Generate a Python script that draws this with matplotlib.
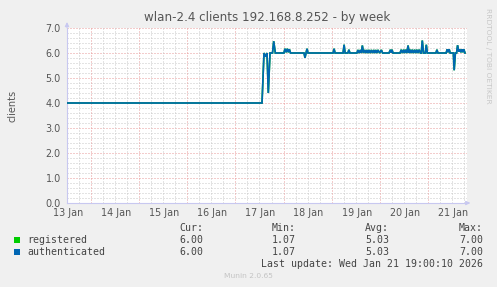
import matplotlib
matplotlib.use("Agg")
import matplotlib.pyplot as plt
import numpy as np

# ---- data (hours since start of graph window, value) ----
hours = [0.0, 97.26, 98.25, 99.0, 99.75, 100.4, 101.25, 102.5, 103.1, 103.9,
         108.2, 108.7, 109.3, 109.9, 110.4, 110.9, 111.5,
         118.2, 118.7, 119.7, 120.2,
         132.7, 133.2, 133.7, 137.7, 138.2, 138.7, 140.1, 140.6, 141.1,
         144.6, 145.1, 145.7, 146.3, 146.8, 147.3, 147.9, 148.5, 149.1, 149.6,
         150.1, 150.6, 151.2, 151.8, 152.4, 153.0, 153.5, 154.0, 154.5, 155.1,
         155.9, 156.8, 157.4,
         160.6, 161.3, 161.7, 162.1, 162.6,
         166.1, 166.7, 167.3, 167.9, 168.4, 168.9, 169.5, 170.1, 170.7, 171.2,
         171.7, 172.2, 172.8, 173.4, 173.9, 174.5, 175.0, 175.6, 176.3,
         176.7, 177.2, 177.8, 178.7, 179.2, 179.7,
         184.0, 184.5, 185.0,
         189.1, 189.6, 190.1, 190.6, 191.1,
         192.7, 193.1, 193.7, 194.3, 194.8, 195.4, 195.9, 196.5, 197.0, 197.5,
         197.9, 198.5]
clients = [4.0, 4.0, 6.0, 5.85, 6.0, 4.4, 6.0, 6.0, 6.47, 6.0,
           6.0, 6.17, 6.03, 6.17, 6.03, 6.15, 6.0,
           6.0, 5.81, 6.17, 6.0,
           6.0, 6.17, 6.0, 6.0, 6.33, 6.0, 6.0, 6.13, 6.0,
           6.0, 6.12, 6.0, 6.12, 6.0, 6.3, 6.0, 6.12, 6.0, 6.12,
           6.0, 6.12, 6.0, 6.12, 6.0, 6.12, 6.0, 6.12, 6.0, 6.12,
           6.0, 6.12, 6.0,
           6.0, 6.13, 6.02, 6.13, 6.0,
           6.0, 6.13, 6.0, 6.13, 6.0, 6.13, 6.0, 6.3, 6.0, 6.13,
           6.0, 6.13, 6.0, 6.13, 6.0, 6.13, 6.0, 6.13, 6.0,
           6.0, 6.5, 6.0, 6.0, 6.33, 6.0,
           6.0, 6.13, 6.0,
           6.0, 6.15, 6.03, 6.15, 6.0,
           6.0, 5.31, 6.0, 6.0, 6.31, 6.05, 6.15, 6.03, 6.15, 6.03,
           6.15, 6.0]

day_labels = ["13 Jan", "14 Jan", "15 Jan", "16 Jan", "17 Jan",
              "18 Jan", "19 Jan", "20 Jan", "21 Jan"]
series_names = ["registered", "authenticated"]
series_colors = ["#00CC00", "#0066B3"]
cur_vals = ["6.00", "6.00"]
min_vals = ["1.07", "1.07"]
avg_vals = ["5.03", "5.03"]
max_vals = ["7.00", "7.00"]

W, H = 497, 287
fig = plt.figure(figsize=(W / 100, H / 100), dpi=100, facecolor="#F0F0F0")

def fx(px):
    return px / W

def fy(py):
    return 1 - py / H

ax = fig.add_axes([fx(67), fy(203), fx(467) - fx(67), fy(28) - fy(203)])
ax.set_facecolor("white")
span = 199.5
ax.set_xlim(0, span)
ax.set_ylim(0, 7)

# grid
gl = 0.72
for v in np.arange(0.2, 7.01, 0.2):
    major = abs(v - round(v)) < 1e-6
    ax.axhline(v, color="#E89A9A" if major else "#C8C8C8",
               lw=gl, ls=(0, (1, 2)), zorder=1)
for h in np.arange(6, span, 6):
    major = abs(((h - 12) % 24)) < 1e-6
    ax.axvline(h, color="#E89A9A" if major else "#C8C8C8",
               lw=gl, ls=(0, (1, 2)), zorder=1)

for name, col in zip(series_names, series_colors):
    ax.plot(hours, clients, color=col, lw=1.2, zorder=3, solid_joinstyle="miter")

ax.set_yticks(np.arange(0, 7.01, 1))
ax.set_yticklabels([f"{v:.1f}" for v in np.arange(0, 7.01, 1)])
ax.set_xticks([0.5 + 24 * i for i in range(len(day_labels))])
ax.set_xticklabels(day_labels)
ax.tick_params(axis="both", labelsize=6.9, colors="#555555", length=0, pad=4)
ax.tick_params(axis="y", pad=4.5)
ax.tick_params(axis="x", pad=3.5)

for s in ["top", "right"]:
    ax.spines[s].set_visible(False)
for s in ["left", "bottom"]:
    ax.spines[s].set_color("#C8C8F0")
    ax.spines[s].set_linewidth(0.8)

# axis arrows
ax.annotate("", xy=(0, 7.35), xytext=(0, 6.9), xycoords="data",
            arrowprops=dict(arrowstyle="-|>", color="#C8C8F0", lw=0.8,
                            mutation_scale=6), annotation_clip=False)
ax.annotate("", xy=(span + 3.0, 0), xytext=(span - 1, 0), xycoords="data",
            arrowprops=dict(arrowstyle="-|>", color="#C8C8F0", lw=0.8,
                            mutation_scale=6), annotation_clip=False)

# title and labels
fig.text(fx(267), fy(18), "wlan-2.4 clients 192.168.8.252 - by week",
         ha="center", va="center", fontsize=8.6, color="#555555")
fig.text(fx(12), fy(106), "clients", rotation=90, ha="center", va="center",
         fontsize=7.0, color="#555555")
fig.text(fx(488), fy(56), "RRDTOOL / TOBI OETIKER", rotation=270,
         ha="center", va="center", fontsize=5.4, color="#C8C8C8")

mono = "DejaVu Sans Mono"
fs = 7.1
tc = "#444444"
fig.text(fx(203), fy(228), "Cur:", ha="right", va="center", family=mono, fontsize=fs, color=tc)
fig.text(fx(296), fy(228), "Min:", ha="right", va="center", family=mono, fontsize=fs, color=tc)
fig.text(fx(389), fy(228), "Avg:", ha="right", va="center", family=mono, fontsize=fs, color=tc)
fig.text(fx(483), fy(228), "Max:", ha="right", va="center", family=mono, fontsize=fs, color=tc)

rows_y = [240, 252]
for i, (name, col) in enumerate(zip(series_names, series_colors)):
    y = rows_y[i]
    fig.patches.append(plt.Rectangle((fx(14), fy(y + 2.5)), fx(5.5), fy(0) - fy(5.5),
                                     transform=fig.transFigure, facecolor=col,
                                     edgecolor="none"))
    fig.text(fx(27), fy(y), name, ha="left", va="center", family=mono, fontsize=fs, color=tc)
    fig.text(fx(203), fy(y), cur_vals[i], ha="right", va="center", family=mono, fontsize=fs, color=tc)
    fig.text(fx(296), fy(y), min_vals[i], ha="right", va="center", family=mono, fontsize=fs, color=tc)
    fig.text(fx(389), fy(y), avg_vals[i], ha="right", va="center", family=mono, fontsize=fs, color=tc)
    fig.text(fx(483), fy(y), max_vals[i], ha="right", va="center", family=mono, fontsize=fs, color=tc)

fig.text(fx(483), fy(264), "Last update: Wed Jan 21 19:00:10 2026", ha="right",
         va="center", family=mono, fontsize=fs, color=tc)
fig.text(fx(248), fy(276), "Munin 2.0.65", ha="center", va="center",
         fontsize=5.4, color="#C4C4C4")

fig.savefig("out.png", dpi=100, facecolor=fig.get_facecolor())
